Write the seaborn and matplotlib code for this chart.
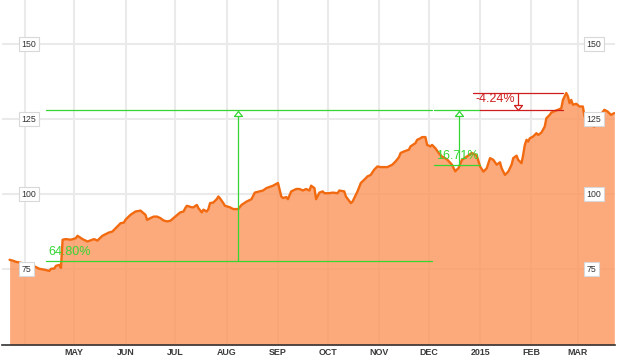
import matplotlib
matplotlib.use("Agg")
import matplotlib.pyplot as plt
import matplotlib.transforms as mtrans
import pandas as pd
import seaborn as sns

# ---------------- data ----------------
dates = [
    "2014-03-23", "2014-03-25", "2014-03-27", "2014-03-29", "2014-04-02", "2014-04-07",
    "2014-04-10", "2014-04-13", "2014-04-16", "2014-04-17", "2014-04-19", "2014-04-20",
    "2014-04-22", "2014-04-23", "2014-04-24", "2014-04-26", "2014-04-29", "2014-05-02",
    "2014-05-03", "2014-05-06", "2014-05-09", "2014-05-13", "2014-05-15", "2014-05-18",
    "2014-05-22", "2014-05-24", "2014-05-27", "2014-05-29", "2014-05-31", "2014-06-01",
    "2014-06-04", "2014-06-07", "2014-06-10", "2014-06-13", "2014-06-14", "2014-06-16",
    "2014-06-18", "2014-06-20", "2014-06-22", "2014-06-24", "2014-06-26", "2014-06-28",
    "2014-07-01", "2014-07-04", "2014-07-06", "2014-07-07", "2014-07-08", "2014-07-11",
    "2014-07-12", "2014-07-14", "2014-07-15", "2014-07-17", "2014-07-18", "2014-07-20",
    "2014-07-21", "2014-07-22", "2014-07-24", "2014-07-26", "2014-07-27", "2014-07-28",
    "2014-07-30", "2014-07-31", "2014-08-03", "2014-08-05", "2014-08-08", "2014-08-10",
    "2014-08-13", "2014-08-16", "2014-08-18", "2014-08-21", "2014-08-23", "2014-08-25",
    "2014-08-28", "2014-08-29", "2014-08-31", "2014-09-01", "2014-09-03", "2014-09-04",
    "2014-09-06", "2014-09-07", "2014-09-09", "2014-09-12", "2014-09-14", "2014-09-16",
    "2014-09-18", "2014-09-20", "2014-09-21", "2014-09-23", "2014-09-24", "2014-09-26",
    "2014-09-28", "2014-09-29", "2014-10-02", "2014-10-04", "2014-10-07", "2014-10-08",
    "2014-10-11", "2014-10-12", "2014-10-15", "2014-10-16", "2014-10-19", "2014-10-21",
    "2014-10-24", "2014-10-25", "2014-10-27", "2014-10-29", "2014-10-31", "2014-11-02",
    "2014-11-06", "2014-11-09", "2014-11-11", "2014-11-13", "2014-11-14", "2014-11-16",
    "2014-11-19", "2014-11-20", "2014-11-23", "2014-11-24", "2014-11-26", "2014-11-27",
    "2014-11-29", "2014-11-30", "2014-12-02", "2014-12-03", "2014-12-05", "2014-12-07",
    "2014-12-09", "2014-12-12", "2014-12-15", "2014-12-17", "2014-12-19", "2014-12-21",
    "2014-12-24", "2014-12-27", "2014-12-30", "2015-01-01", "2015-01-03", "2015-01-05",
    "2015-01-07", "2015-01-09", "2015-01-11", "2015-01-13", "2015-01-14", "2015-01-16",
    "2015-01-18", "2015-01-20", "2015-01-21", "2015-01-23", "2015-01-24", "2015-01-26",
    "2015-01-27", "2015-01-28", "2015-01-29", "2015-01-30", "2015-01-31", "2015-02-02",
    "2015-02-04", "2015-02-05", "2015-02-07", "2015-02-09", "2015-02-10", "2015-02-12",
    "2015-02-13", "2015-02-17", "2015-02-19", "2015-02-20", "2015-02-22", "2015-02-23",
    "2015-02-24", "2015-02-25", "2015-02-26", "2015-02-28", "2015-03-02", "2015-03-04",
    "2015-03-05", "2015-03-08", "2015-03-11", "2015-03-14", "2015-03-17", "2015-03-19",
    "2015-03-21", "2015-03-23",
]
prices = [
    78.1, 77.8, 77.4, 77.2, 76.6, 75.9,
    75.1, 74.8, 74.4, 75.1, 75.2, 76.1,
    76.4, 75.4, 84.8, 85.0, 84.8, 85.3,
    86.1, 85.0, 84.2, 85.0, 84.5, 86.1,
    87.2, 87.5, 89.2, 90.3, 90.5, 91.5,
    93.1, 94.2, 94.5, 93.1, 91.4, 92.0,
    92.5, 92.5, 92.0, 91.2, 90.9, 91.1,
    92.5, 93.9, 94.2, 95.3, 96.1, 95.6,
    95.6, 96.4, 95.3, 93.9, 94.8, 94.2,
    95.0, 97.0, 97.2, 98.3, 99.2, 98.6,
    97.0, 96.1, 95.6, 95.0, 95.0, 96.4,
    97.5, 98.3, 100.5, 100.9, 101.2, 102.0,
    102.6, 102.8, 103.4, 103.7, 99.2, 98.7,
    99.0, 98.3, 100.9, 101.7, 101.7, 101.2,
    101.7, 101.2, 102.8, 102.0, 98.3, 100.5,
    100.9, 100.3, 100.3, 100.5, 100.3, 101.2,
    100.9, 99.2, 97.0, 97.5, 100.9, 103.7,
    105.3, 105.9, 106.4, 108.1, 109.2, 109.0,
    109.0, 109.8, 110.9, 112.3, 113.7, 114.2,
    114.8, 115.9, 117.0, 118.1, 118.6, 119.0,
    119.0, 116.4, 115.9, 116.4, 115.3, 113.7,
    112.5, 111.6, 109.8, 107.6, 108.7, 111.4,
    112.5, 113.7, 112.8, 109.2, 107.5, 108.6,
    112.0, 111.4, 109.8, 110.6, 108.6, 106.4,
    107.5, 109.8, 112.0, 112.8, 111.4, 110.3,
    113.1, 116.4, 118.1, 117.5, 118.6, 119.2,
    120.3, 119.7, 120.5, 122.5, 125.3, 126.4,
    127.2, 128.1, 128.6, 131.4, 133.7, 132.6,
    130.3, 131.4, 129.8, 130.1, 129.2, 129.2,
    125.9, 123.1, 122.5, 125.9, 128.1, 127.5,
    126.4, 127.0,
]

month_ticks = ["2014-04-01", "2014-05-01", "2014-06-01", "2014-07-01", "2014-08-01",
               "2014-09-01", "2014-10-01", "2014-11-01", "2014-12-01", "2015-01-01",
               "2015-02-01", "2015-03-01"]
month_labels = ["", "MAY", "JUN", "JUL", "AUG", "SEP", "OCT", "NOV", "DEC", "2015", "FEB", "MAR"]
y_ticks = [75, 100, 125, 150]
y_labels = ["75", "100", "125", "150"]

# measurement annotations (start, end, arrow date, low, high, label)
m1_start, m1_end, m1_at = "2014-04-14", "2014-12-03", "2014-08-08"
m1_low, m1_high, m1_label = 77.7, 128.0, "64.80%"
m2_start, m2_end, m2_at = "2014-12-04", "2015-01-01", "2014-12-19"
m2_low, m2_high, m2_label = 109.7, 128.0, "16.71%"
m3_top_start, m3_low_start, m3_end, m3_at = "2014-12-28", "2015-01-01", "2015-02-20", "2015-01-24"
m3_high, m3_low, m3_label = 133.7, 128.0, "-4.24%"

# ---------------- style ----------------
sns.set_style("white")
plt.rcParams["font.family"] = ["Liberation Sans", "DejaVu Sans"]

GREEN = "#33d633"
RED = "#cf1c1c"
LINE = "#f26a10"
FILL = "#fc975e"

df = pd.DataFrame({"date": pd.to_datetime(dates), "price": prices})
T = pd.to_datetime

fig = plt.figure(figsize=(6.19, 3.63), dpi=100)
ax = fig.add_axes([2 / 619, 18 / 363, 613 / 619, 345 / 363])

ymin, ymax = 49.7, 164.7
ax.set_ylim(ymin, ymax)
ax.set_xlim(T("2014-03-18 10:00"), T("2015-03-23 10:00"))

ax.fill_between(df["date"], df["price"], ymin, color=FILL, alpha=0.82, lw=0, zorder=1)
sns.lineplot(data=df, x="date", y="price", color=LINE, linewidth=1.7, ax=ax, zorder=3)

# grid
ax.set_xticks(T(month_ticks))
ax.set_xticklabels(month_labels)
ax.set_yticks(y_ticks)
ax.grid(True, color="#eaeaea", linewidth=1.5)
ax.set_axisbelow(True)
ax.tick_params(axis="both", length=0)
ax.tick_params(axis="y", labelleft=False)
ax.tick_params(axis="x", pad=2.5, labelsize=6.4, labelcolor="#3a3a3a")
for t in ax.get_xticklabels():
    t.set_fontweight("bold")
ax.set_xlabel("")
ax.set_ylabel("")
for s in ["top", "right", "left"]:
    ax.spines[s].set_visible(False)
ax.spines["bottom"].set_color("#333333")
ax.spines["bottom"].set_linewidth(1.2)

# y labels in boxes, both sides
blend = mtrans.blended_transform_factory(ax.transAxes, ax.transData)
for v, lab in zip(y_ticks, y_labels):
    for xf in (0.032, 0.9537):
        ax.text(xf, v, lab, transform=blend, ha="left", va="center", fontsize=6.3,
                color="#333333", zorder=10,
                bbox=dict(boxstyle="square,pad=0.3", fc="white", ec="#d8d8d8", lw=0.8))

up_head = [(-4, 0), (0, 5), (4, 0), (-4, 0)]
down_head = [(-4, 0), (0, -5), (4, 0), (-4, 0)]
up_tr = mtrans.offset_copy(ax.transData, fig=fig, y=-6, units="dots")
dn_tr = mtrans.offset_copy(ax.transData, fig=fig, y=5, units="dots")

# measurement 1
ax.plot([T(m1_start), T(m1_end)], [m1_high, m1_high], color=GREEN, lw=0.9, zorder=4)
ax.plot([T(m1_start), T(m1_end)], [m1_low, m1_low], color=GREEN, lw=0.9, zorder=4)
ax.plot([T(m1_at), T(m1_at)], [m1_low, m1_high], color=GREEN, lw=0.9, zorder=4)
ax.plot([T(m1_at)], [m1_high], marker=up_head, ms=7.2, mfc="white", mec=GREEN, mew=0.9,
        transform=up_tr, zorder=5)
ax.annotate(m1_label, (T(m1_start), m1_low), xytext=(1.5, 2), textcoords="offset points",
            ha="left", va="bottom", fontsize=9, color=GREEN, zorder=6)

# measurement 2
ax.plot([T(m2_start), T(m2_end)], [m2_high, m2_high], color=GREEN, lw=0.9, zorder=4)
ax.plot([T(m2_start), T(m2_end)], [m2_low, m2_low], color=GREEN, lw=0.9, zorder=4)
ax.plot([T(m2_at), T(m2_at)], [m2_low, m2_high], color=GREEN, lw=0.9, zorder=4)
ax.plot([T(m2_at)], [m2_high], marker=up_head, ms=7.2, mfc="white", mec=GREEN, mew=0.9,
        transform=up_tr, zorder=5)
ax.annotate(m2_label, (T(m2_start), m2_low), xytext=(1.5, 2), textcoords="offset points",
            ha="left", va="bottom", fontsize=9, color=GREEN, zorder=6)

# measurement 3
ax.plot([T(m3_top_start), T(m3_end)], [m3_high, m3_high], color=RED, lw=0.9, zorder=4)
ax.plot([T(m3_low_start), T(m3_end)], [m3_low, m3_low], color=RED, lw=0.9, zorder=4)
ax.plot([T(m3_at), T(m3_at)], [m3_high, m3_low], color=RED, lw=0.9, zorder=4)
ax.plot([T(m3_at)], [m3_low], marker=down_head, ms=7.2, mfc="white", mec=RED, mew=0.9,
        transform=dn_tr, zorder=5)
ax.annotate(m3_label, (T(m3_top_start), (m3_high + m3_low) / 2), xytext=(1.5, 1.5),
            textcoords="offset points", ha="left", va="center", fontsize=9, color=RED, zorder=6)

fig.savefig("out.png", dpi=100)
